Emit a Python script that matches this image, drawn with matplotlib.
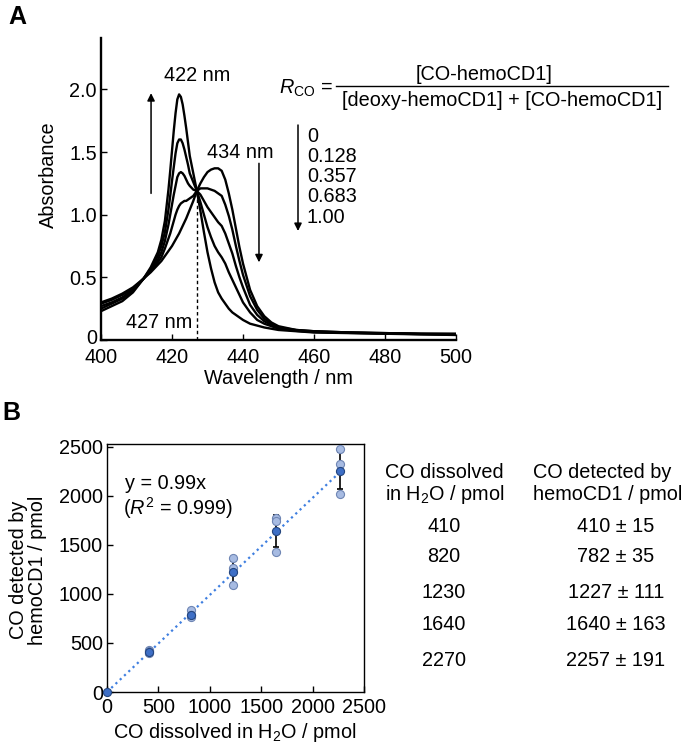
import matplotlib
matplotlib.use('Agg')
import matplotlib.pyplot as plt
from matplotlib.lines import Line2D
from matplotlib.patches import FancyArrowPatch
from matplotlib.transforms import ScaledTranslation

plt.rcParams['font.family'] = ['Liberation Sans', 'DejaVu Sans']
plt.rcParams['mathtext.fontset'] = 'custom'
plt.rcParams['mathtext.rm'] = 'Liberation Sans'
plt.rcParams['mathtext.it'] = 'Liberation Sans:italic'
FS = 14.3

# --- panel A: absorption spectra ---
wavelength = [400, 403, 406, 409, 412, 414, 416, 417, 418, 419, 419.5, 420, 420.5, 421, 421.5,
              422, 422.5, 423, 423.5, 424, 424.5, 425, 426, 427, 428, 429, 430, 431, 432, 433,
              434, 435, 436, 437, 438, 439, 440, 442, 444, 446, 448, 450, 455, 460, 470, 480,
              490, 500]
abs_r0000 = [0.30, 0.33, 0.37, 0.42, 0.49, 0.54, 0.60, 0.63, 0.67, 0.71, 0.73, 0.75, 0.775, 0.80, 0.825,
             0.85, 0.88, 0.91, 0.94, 0.97, 1.005, 1.04, 1.11, 1.19, 1.25, 1.30, 1.34, 1.36, 1.37, 1.37,
             1.35, 1.28, 1.17, 1.04, 0.89, 0.74, 0.61, 0.40, 0.27, 0.19, 0.14, 0.11, 0.08, 0.07, 0.06, 0.055,
             0.05, 0.05]
abs_r0128 = [0.29, 0.32, 0.36, 0.41, 0.49, 0.55, 0.62, 0.66, 0.73, 0.81, 0.85, 0.90, 0.95, 1.00, 1.04,
             1.07, 1.09, 1.10, 1.11, 1.11, 1.12, 1.13, 1.15, 1.19, 1.21, 1.21, 1.21, 1.20, 1.19, 1.17,
             1.15, 1.08, 0.99, 0.88, 0.75, 0.63, 0.52, 0.35, 0.24, 0.17, 0.13, 0.10, 0.08, 0.07, 0.06, 0.055,
             0.05, 0.048]
abs_r0357 = [0.27, 0.30, 0.34, 0.40, 0.49, 0.56, 0.64, 0.70, 0.79, 0.92, 1.00, 1.08, 1.16, 1.23, 1.30,
             1.33, 1.34, 1.33, 1.31, 1.28, 1.25, 1.23, 1.20, 1.19, 1.16, 1.11, 1.06, 1.02, 0.98, 0.94,
             0.91, 0.85, 0.77, 0.69, 0.59, 0.50, 0.42, 0.28, 0.20, 0.15, 0.12, 0.097, 0.076, 0.066, 0.058, 0.053,
             0.048, 0.046]
abs_r0683 = [0.25, 0.29, 0.33, 0.39, 0.49, 0.57, 0.67, 0.75, 0.86, 1.04, 1.15, 1.27, 1.38, 1.49, 1.57,
             1.60, 1.60, 1.57, 1.52, 1.46, 1.40, 1.33, 1.26, 1.19, 1.10, 1.00, 0.90, 0.82, 0.75, 0.70,
             0.66, 0.61, 0.54, 0.48, 0.42, 0.36, 0.30, 0.22, 0.16, 0.13, 0.11, 0.09, 0.073, 0.063, 0.057, 0.052,
             0.047, 0.043]
abs_r1000 = [0.23, 0.27, 0.31, 0.38, 0.49, 0.58, 0.70, 0.80, 0.95, 1.20, 1.35, 1.51, 1.67, 1.81, 1.92,
             1.96, 1.94, 1.88, 1.79, 1.69, 1.58, 1.47, 1.33, 1.19, 1.03, 0.86, 0.70, 0.57, 0.46, 0.38,
             0.33, 0.29, 0.25, 0.22, 0.20, 0.18, 0.16, 0.13, 0.115, 0.10, 0.09, 0.08, 0.07, 0.06, 0.055, 0.05,
             0.045, 0.04]
rco_labels = ['0', '0.128', '0.357', '0.683', '1.00']

# --- panel B: CO quantification ---
co_dissolved = [0, 410, 820, 1230, 1640, 2270]
co_detected = [0, 410, 782, 1227, 1640, 2257]
co_sd = [0, 15, 35, 111, 163, 191]
rep_x = [410, 410, 410, 820, 820, 820, 1230, 1230, 1230, 1640, 1640, 1640, 2270, 2270, 2270]
rep_y = [425, 415, 395, 840, 790, 765, 1365, 1265, 1090, 1780, 1745, 1425, 2480, 2330, 2015]
slope = 0.99
table_dissolved = ['410', '820', '1230', '1640', '2270']
table_detected = ['410 \u00b1 15', '782 \u00b1 35', '1227 \u00b1 111', '1640 \u00b1 163', '2257 \u00b1 191']

W, H = 685, 745
def fp(x, y):
    return (x / W, 1 - y / H)

fig = plt.figure(figsize=(W / 100, H / 100), dpi=100)

# ---------------- panel A ----------------
axA = fig.add_axes([101 / W, 1 - 340 / H, (456 - 101) / W, (340 - 38) / H])
for spec in [abs_r0000, abs_r0128, abs_r0357, abs_r0683, abs_r1000]:
    axA.plot(wavelength, spec, color='k', lw=1.7, solid_joinstyle='round')
axA.set_xlim(400, 500)
axA.set_ylim(0, 2.41)
axA.spines['top'].set_visible(False)
axA.spines['right'].set_visible(False)
for s in ['left', 'bottom']:
    axA.spines[s].set_linewidth(1.7)
axA.set_xticks([400, 420, 440, 460, 480, 500])
axA.set_yticks([0, 0.5, 1.0, 1.5, 2.0])
axA.set_yticklabels(['0', '0.5', '1.0', '1.5', '2.0'])
axA.tick_params(direction='in', length=4, width=1, labelsize=FS, pad=3)
axA.tick_params(axis='x', pad=6)
# nudge the "0" label up a little so it clears the "400" below it
lab0 = axA.get_yticklabels()[0]
lab0.set_transform(lab0.get_transform() + ScaledTranslation(0, 3 / 100, fig.dpi_scale_trans))
axA.set_xlabel('Wavelength / nm', fontsize=FS)
axA.set_ylabel('Absorbance', fontsize=FS)
axA.xaxis.set_label_coords((278 - 101) / 355, (340 - 379) / 302)
axA.xaxis.label.set_verticalalignment('center')
axA.yaxis.set_label_coords((48 - 101) / 355, 0.5 - (175 - 189) / 302)
axA.yaxis.label.set_verticalalignment('center')

axA.plot([427, 427], [0, 1.19], ls='--', color='k', lw=1, dashes=(2.5, 2))
axA.text(427, 2.11, '422 nm', ha='center', va='center', fontsize=FS)
axA.text(439.2, 1.50, '434 nm', ha='center', va='center', fontsize=FS)
axA.text(425.6, 0.14, '427 nm', ha='right', va='center', fontsize=FS)
arr = dict(arrowstyle='-|>', lw=1.1, color='k', mutation_scale=11, shrinkA=0, shrinkB=0)
axA.annotate('', xy=(414.1, 1.97), xytext=(414.1, 1.17), arrowprops=arr)
axA.annotate('', xy=(444.5, 0.62), xytext=(444.5, 1.41), arrowprops=arr)

# R_CO definition and legend column
fig.text(*fp(333, 88), r'$R_{\mathrm{CO}}$ =', ha='right', va='center', fontsize=FS)
fig.text(*fp(484, 74), '[CO-hemoCD1]', ha='center', va='center', fontsize=FS)
fig.add_artist(Line2D([336 / W, 668 / W], [1 - 86 / H] * 2, color='k', lw=1))
fig.text(*fp(502, 100), '[deoxy-hemoCD1] + [CO-hemoCD1]', ha='center', va='center', fontsize=FS)
fig.add_artist(FancyArrowPatch(fp(298, 125), fp(298, 231), transform=fig.transFigure,
                               arrowstyle='-|>', mutation_scale=11, color='k', lw=1.1,
                               shrinkA=0, shrinkB=0))
for i, lab in enumerate(rco_labels):
    fig.text(*fp(307, 136 + i * 20.3), lab, ha='left', va='center', fontsize=FS)

fig.text(*fp(8, 17), 'A', ha='left', va='center', fontsize=18, fontweight='bold')
fig.text(*fp(2, 413), 'B', ha='left', va='center', fontsize=18, fontweight='bold')

# ---------------- panel B ----------------
axB = fig.add_axes([107 / W, 1 - 692 / H, (364 - 107) / W, (692 - 444) / H])
axB.plot([0, co_dissolved[-1]], [0, slope * co_dissolved[-1]], ls=':', color='#3f7fe0', lw=1.6, zorder=1)
axB.errorbar(co_dissolved[1:], co_detected[1:], yerr=co_sd[1:], fmt='none', ecolor='k',
             elinewidth=1.2, capsize=2.5, capthick=1.2, zorder=2)
axB.scatter(rep_x, rep_y, s=34, facecolor='#a7bbe2', edgecolor='#6f86b4', lw=0.8, zorder=3)
axB.scatter(co_dissolved, co_detected, s=34, facecolor='#3e6fc6', edgecolor='#24467f', lw=0.8,
            zorder=4, clip_on=False)
axB.set_xlim(0, 2500)
axB.set_ylim(0, 2530)
axB.set_xticks([0, 500, 1000, 1500, 2000, 2500])
axB.set_yticks([0, 500, 1000, 1500, 2000, 2500])
axB.tick_params(direction='in', length=4, width=1, labelsize=FS, pad=3)
axB.tick_params(axis='x', pad=4)
for s in axB.spines.values():
    s.set_linewidth(1)
axB.set_xlabel(r'CO dissolved in H$_2$O / pmol', fontsize=FS)
axB.set_ylabel('CO detected by\nhemoCD1 / pmol', fontsize=FS, linespacing=1.0)
axB.xaxis.set_label_coords((235 - 107) / 257, (692 - 733) / 248)
axB.xaxis.label.set_verticalalignment('center')
axB.yaxis.set_label_coords((28 - 107) / 257, (692 - 570) / 248)
axB.yaxis.label.set_verticalalignment('center')
axB.text(175, 2125, 'y = 0.99x', ha='left', va='center', fontsize=FS)
axB.text(160, 1872, r'($R^2$ = 0.999)', ha='left', va='center', fontsize=FS)

# table
fig.text(*fp(385, 473), 'CO dissolved', ha='left', va='center', fontsize=FS)
fig.text(*fp(385, 495), r'in H$_2$O / pmol', ha='left', va='center', fontsize=FS)
fig.text(*fp(533, 473), 'CO detected by', ha='left', va='center', fontsize=FS)
fig.text(*fp(533, 495), 'hemoCD1 / pmol', ha='left', va='center', fontsize=FS)
row_y = [526, 557, 592, 624, 660]
for ry, a, b in zip(row_y, table_dissolved, table_detected):
    fig.text(*fp(444, ry), a, ha='center', va='center', fontsize=FS)
    fig.text(*fp(616, ry), b, ha='center', va='center', fontsize=FS)

fig.savefig('out.png', dpi=100)
